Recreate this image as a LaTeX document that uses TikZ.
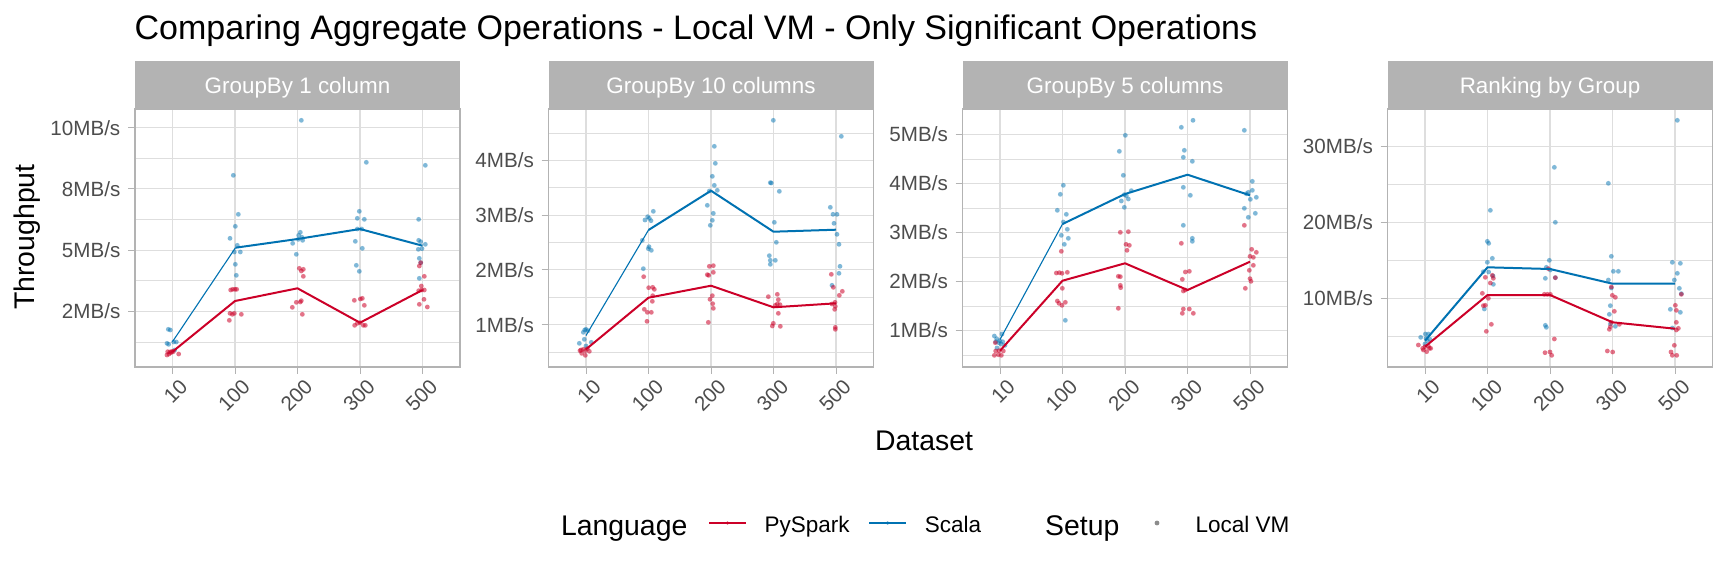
\documentclass[tikz,border=0pt]{standalone}
\usepackage{fontspec}
\setmainfont{Liberation Sans}
\definecolor{gseventy}{HTML}{B3B3B3}
\definecolor{geightyseven}{HTML}{DEDEDE}
\definecolor{gthirty}{HTML}{4D4D4D}
\definecolor{scb}{RGB}{0,114,178}
\definecolor{pyr}{RGB}{204,0,40}
\definecolor{vmgray}{RGB}{120,120,120}
\newcommand\MBs{MB/s}
\tikzset{
  bdot/.style={fill=scb, fill opacity=0.5},
  rdot/.style={fill=pyr, fill opacity=0.55},
  majgrid/.style={draw=geightyseven, line width=1.1pt},
  mingrid/.style={draw=geightyseven, line width=0.6pt},
  pborder/.style={draw=gseventy, line width=1.5pt},
  stripbox/.style={fill=gseventy},
  striptext/.style={text=white, font=\fontsize{22.4}{26}\selectfont, anchor=base, inner sep=0pt},
  ytick/.style={font=\fontsize{20.6}{24}\selectfont, text=gthirty, anchor=base east, inner sep=0pt},
  xtick/.style={font=\fontsize{20.6}{24}\selectfont, text=gthirty, anchor=north east, rotate=45, inner sep=0pt},
  tickmark/.style={draw=gseventy, line width=1pt},
  bline/.style={draw=scb, line width=2pt, line join=round},
  bthin/.style={draw=scb, line width=1.1pt},
  rline/.style={draw=pyr, line width=2pt, line join=round},
  bigtitle/.style={font=\fontsize{34}{40}\selectfont, inner sep=0pt},
  axtitle/.style={font=\fontsize{28.4}{34}\selectfont, inner sep=0pt},
  legtext/.style={font=\fontsize{22.5}{27}\selectfont, inner sep=0pt, anchor=base west},
  zoomed/.style={x=0.333333pt, y=-0.333333pt}
}
% #1 id, #2 left edge, #3 strip label, #4 major y/label list, #5 minor y list
\newcommand\facet[5]{%
  \begin{scope}[shift={(#2pt,0pt)}]
    \foreach \yy in {#5} \draw[mingrid] (0,\yy) -- (325,\yy);
    \foreach \yy/\tt in {#4} \draw[majgrid] (0,\yy) -- (325,\yy);
    \foreach \i in {0,...,4} \draw[majgrid] ({(0.6+\i)*62.5},109) -- ({(0.6+\i)*62.5},367);
    \fill[stripbox] (0,61) rectangle (325,109);
    \node[striptext, name=strip#1] at (162.5,93.3) {#3};
    \draw[pborder] (0,109) rectangle (325,367);
    \foreach \yy/\tt [count=\k] in {#4} {
      \draw[tickmark] (-7,\yy) -- (0,\yy);
      \node[ytick, name=y#1n\k] at (-14.5,\yy+7.4) {\tt};
    }
    \foreach \i/\tt in {0/10,1/100,2/200,3/300,4/500} {
      \draw[tickmark] ({(0.6+\i)*62.5},367) -- ({(0.6+\i)*62.5},374);
      \node[xtick, name=x#1n\i] at ({(0.6+\i)*62.5+6},378) {\tt};
    }
  \end{scope}}
\newcommand\bluepts[1]{\foreach \a/\b in {#1} \fill[bdot] (\a,\b) circle[radius=2.4pt];}
\newcommand\redpts[1]{\foreach \a/\b in {#1} \fill[rdot] (\a,\b) circle[radius=2.4pt];}
\begin{document}
\begin{tikzpicture}[x=1pt, y=-1pt]
\useasboundingbox (0,0) rectangle (1728,576);
\fill[white] (0,0) rectangle (1728,576);

\facet{a}{135}{GroupBy 1 column}{127.7/10\MBs,188.9/8\MBs,250.1/5\MBs,311.3/2\MBs}{158.3,219.5,280.7,341.9}
\facet{b}{548.5}{GroupBy 10 columns}{160.3/4\MBs,215.1/3\MBs,269.9/2\MBs,324.7/1\MBs}{132.9,187.7,242.5,297.3,352.1}
\facet{c}{962.5}{GroupBy 5 columns}{134.3/5\MBs,183.3/4\MBs,232.3/3\MBs,281.3/2\MBs,330.3/1\MBs}{158.8,207.8,256.8,305.8,354.8}
\facet{d}{1387.5}{Ranking by Group}{146.3/30\MBs,222.3/20\MBs,298.3/10\MBs}{184.3,260.3,336.3}

% ---------- panel 1 points
\begin{scope}[shift={(0pt,-50pt)}, zoomed]
\bluepts{700/376,715/493,706/529,690/565,712/586,703/606,721/606,706/643,709/676,
904/211,901/547,896/556,906/562,895/568,908/571,878/580,889/613,
1099/337,1078/484,1072/505,1093/508,1072/537,1085/537,1066/574,1087/595,1069/646,1078/664,
1276/346,1256/508,1256/571,1262/575,1276/583,1266/596,1255/598,1258/625,1262/638,1258/685}
\redpts{692/720,698/718,705/718,710/718,690/790,697/793,703/790,724/793,688/811,
898/655,904/663,910/658,910/679,889/757,904/752,901/756,877/772,907/793,
1063/751,1081/747,1087/745,1093/766,1064/826,1072/820,1080/818,1090/826,1096/826,
1262/638,1258/648,1273/679,1264/708,1256/722,1265/720,1273/720,1272/748,1258/763,1282/771}
\end{scope}
\begin{scope}[shift={(100pt,-280pt)}, zoomed]
\bluepts{205/148,211/150,201/190,206/193,221/186,229/186,224/210}
\redpts{203/215,210/216,216/214,201/225,207/222,213/218,220/215,236/222}
\end{scope}
% ---------- panel 2 points
\begin{scope}[shift={(430pt,-50pt)}, zoomed]
\bluepts{670/484,645/510,653/500,658/505,663/512,637/571,657/590,655/596,664/601,640/656,
853/289,856/340,847/379,853/406,838/423,862/421,832/466,850/490,847/511,841/526,
1030/211,1021/398,1024/399,1048/424,1033/517,1039/577,1018/617,1021/631,1036/631,1021/643,
1234/259,1201/472,1209/493,1221/493,1212/520,1221/553,1227/583,1230/649,1227/670,1206/706}
\redpts{641/680,656/713,668/712,673/718,668/737,667/754,643/778,652/787,664/787,651/814,
838/649,850/647,832/674,836/676,850/667,847/737,840/748,848/761,850/775,835/817,
1015/740,1042/733,1045/749,1042/762,1050/764,1036/766,1045/790,1030/820,1027/828,1051/829,
1204/673,1210/712,1237/724,1228/736,1215/757,1206/762,1216/769,1214/778,1216/832,1216/838}
\end{scope}
\begin{scope}[shift={(500pt,-280pt)}, zoomed]
\bluepts{250/157,254/150,258/148,264/152,253/178,238/190,274/187,258/198}
\redpts{243/210,250/208,256/212,262/206,268/214,245/220,256/226,240/212}
\end{scope}
% ---------- panel 3 points
\begin{scope}[shift={(860pt,-50pt)}, zoomed]
\bluepts{610/406,601/433,592/481,619/493,610/516,622/538,604/556,625/565,613/583,616/811,
796/256,778/304,790/376,814/422,793/434,799/437,784/453,805/447,793/472,
999/211,964/232,973/301,970/322,997/334,970/412,991/436,970/526,997/565,997/574,
1153/241,1177/394,1165/427,1177/421,1159/431,1189/442,1171/448,1153/475,1186/490,1165/502}
\redpts{604/604,589/669,598/668,606/670,622/667,607/715,592/753,597/760,606/766,616/757,
781/547,805/545,798/583,808/586,801/601,775/679,781/680,781/706,782/713,775/775,
964/580,976/666,988/664,967/688,970/723,976/720,970/777,988/777,967/790,1000/790,
1153/526,1175/598,1189/607,1170/619,1180/622,1180/646,1168/661,1170/686,1173/694,1156/715}
\end{scope}
\begin{scope}[shift={(960pt,-280pt)}, zoomed]
\bluepts{103/168,110/176,126/162,107/185,119/182,128/185,135/196,123/192,111/204,116/188}
\redpts{103/226,115/224,124/226,107/213,117/212,130/213,106/188}
\end{scope}
% ---------- panel 4 points
\begin{scope}[shift={(1290pt,-50pt)}, zoomed]
\bluepts{601/481,592/574,596/580,592/637,607/625,580/665,596/666,609/678,610/703,583/777,
793/352,796/517,778/631,781/660,769/652,766/685,796/683,769/832,766/826,
955/400,964/619,955/690,970/664,985/664,964/714,961/767,958/793,976/829,961/822,
1162/211,1147/637,1171/640,1162/670,1153/690,1168/715,1141/778,1171/787,1147/834,1174/731}
\redpts{586/682,607/676,610/685,601/699,577/730,595/745,580/767,586/766,604/823,589/844,
775/656,763/733,772/733,781/733,796/683,793/867,
964/711,967/736,976/742,973/784,961/830,958/838,988/823,964/817,
1174/733,1156/766,1159/781,1159/817,1165/835,1159/840,1153/886}
\end{scope}
\begin{scope}[shift={(1370pt,-280pt)}, zoomed]
\bluepts{152/172,166/162,175/162,168/175,172/182,180/178,165/192}
\redpts{145/195,158/205,170/215,178/205,165/200,182/205,160/210,175/198,
525/218,540/216,545/226,712/213,728/216,903/216,907/226,920/226}
\end{scope}

% ---------- summary lines
\draw[bthin] (172.5,341.7) -- (235.5,247.7);
\draw[bline] (235.5,247.7) -- (297.5,239) -- (360,229) -- (422.5,245.7);
\draw[rline] (172.5,351.7) -- (235,301) -- (297.5,288.3) -- (360,322.7) -- (422.5,290);
\draw[bthin] (586,335.5) -- (648.5,230);
\draw[bline] (648.5,230) -- (711,190.7) -- (773.5,231.7) -- (836,229.7);
\draw[rline] (586,349.3) -- (648.5,297.7) -- (711,285.7) -- (773.5,307.3) -- (836,303.3);
\draw[bthin] (1000,339.5) -- (1062.5,224);
\draw[bline] (1062.5,224) -- (1125,194) -- (1187.5,174.7) -- (1250,195.3);
\draw[rline] (1000,350.7) -- (1062.5,280.7) -- (1125,263.3) -- (1187.5,290) -- (1250,261.7);
\draw[bline] (1425,340.7) -- (1487.5,267.3) -- (1550,269) -- (1612.5,283.7) -- (1675,283.7);
\draw[rline] (1425,346.7) -- (1487.5,295) -- (1550,295) -- (1612.5,322.3) -- (1675,328.7);

% ---------- titles
\node[bigtitle, anchor=base west, name=title] at (134.5,39.3) {Comparing Aggregate Operations - Local VM - Only Significant Operations};
\node[axtitle, rotate=90, anchor=center, name=ytitle] at (27,237) {Throughput};
\node[axtitle, anchor=base, name=xtitle] at (924,450) {Dataset};

% ---------- legend
\node[axtitle, anchor=base west, name=legA] at (560.8,535) {Language};
\coordinate (kra) at (709.3,523); \coordinate (krb) at (745.7,523);
\draw[rline] (kra) -- (krb);
\fill[rdot] (727.5,523) circle[radius=1.9pt];
\node[legtext, name=legpy] at (764.5,532.7) {PySpark};
\coordinate (kba) at (869.3,523); \coordinate (kbb) at (906,523);
\draw[bline] (kba) -- (kbb);
\fill[bdot] (887.6,523) circle[radius=1.9pt];
\node[legtext, name=legsc] at (924.6,532.7) {Scala};
\node[axtitle, anchor=base west, name=legB] at (1045,535) {Setup};
\fill[vmgray, fill opacity=0.85] (1157,523) circle[radius=2.4pt];
\node[legtext, name=legvm] at (1195.5,532.7) {Local VM};
\end{tikzpicture}
\end{document}
